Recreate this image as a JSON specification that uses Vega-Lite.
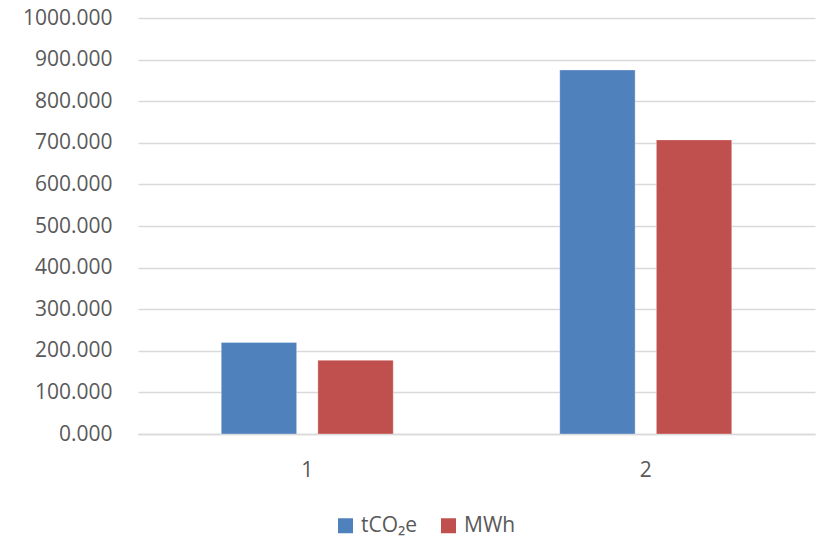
{
  "$schema": "https://vega.github.io/schema/vega-lite/v6.json",
  "width": 677,
  "height": 416,
  "autosize": {"type": "none"},
  "padding": {"left": 138, "top": 18, "right": 5, "bottom": 106},
  "background": "white",
  "data": {
    "values": [
      {"group": "1", "series": "tCO₂e", "value": 220},
      {"group": "1", "series": "MWh", "value": 177},
      {"group": "2", "series": "tCO₂e", "value": 875},
      {"group": "2", "series": "MWh", "value": 707}
    ]
  },
  "mark": {"type": "bar", "stroke": "white", "strokeWidth": 0.5, "strokeOpacity": 0.6},
  "encoding": {
    "x": {
      "field": "group", "type": "nominal",
      "scale": {"paddingInner": 0.492, "paddingOuter": 0.246},
      "axis": {"title": null, "labelAngle": 0, "ticks": false, "labelPadding": 25, "domainColor": "#D9D9D9", "domainWidth": 1.5}
    },
    "xOffset": {
      "field": "series", "type": "nominal",
      "sort": ["tCO₂e", "MWh"],
      "scale": {"paddingInner": 0.22, "paddingOuter": 0}
    },
    "y": {
      "field": "value", "type": "quantitative",
      "scale": {"domain": [0, 1000], "nice": false},
      "axis": {"title": null, "values": [0,100,200,300,400,500,600,700,800,900,1000], "format": ".3f", "ticks": false, "domain": false, "labelPadding": 26, "gridColor": "#D9D9D9", "gridWidth": 1.5}
    },
    "color": {
      "field": "series", "type": "nominal",
      "sort": ["tCO₂e", "MWh"],
      "scale": {"domain": ["tCO₂e", "MWh"], "range": ["#4F81BD", "#C0504D"]},
      "legend": {"title": null, "orient": "none", "direction": "horizontal", "legendX": 197, "legendY": 497, "symbolType": "square", "symbolSize": 225, "symbolStrokeWidth": 0, "columnPadding": 20, "labelOffset": 5}
    }
  },
  "config": {
    "font": "Open Sans",
    "view": {"stroke": null},
    "axis": {"labelFont": "Open Sans", "labelFontSize": 21, "labelColor": "#595959"},
    "legend": {"labelFont": "Open Sans", "labelFontSize": 21, "labelColor": "#595959"}
  }
}
